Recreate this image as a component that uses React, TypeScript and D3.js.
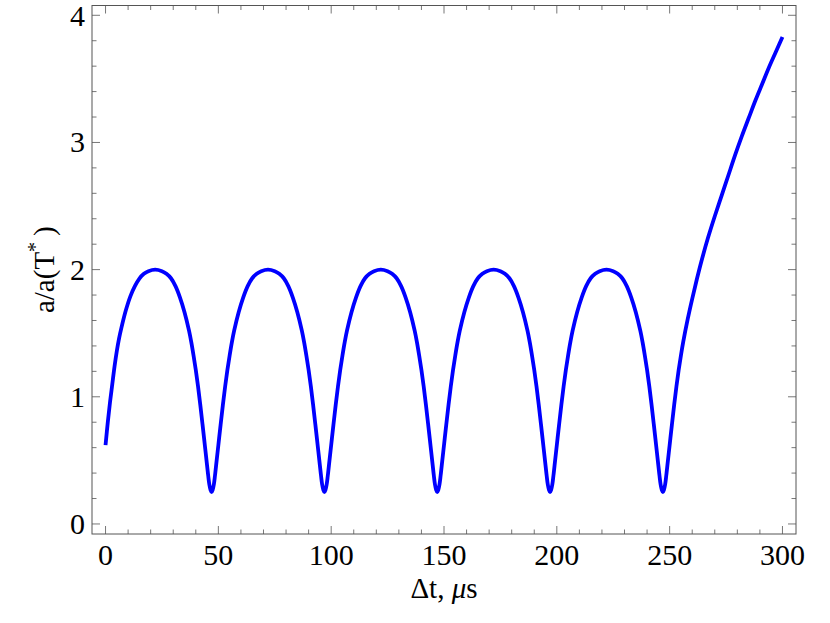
import React from "react";
import * as d3 from "d3";

// Curve samples: time Δt (µs) and ratio a/a(T*)
const tStart: number[] = [0, 1, 2, 3, 4, 5, 6, 7, 9, 11, 13, 15, 17, 19];
const vStart: number[] = [0.62, 0.8, 0.96, 1.1, 1.24, 1.36, 1.46, 1.54, 1.68, 1.79, 1.87, 1.93, 1.967, 1.988];

const tArch1: number[] = [22, 25, 27, 29, 31, 33, 35, 37, 38, 39, 40, 41, 42, 43, 44, 45, 45.5, 46, 46.5, 47, 47.5, 48, 48.5, 49, 50, 51, 52, 53, 54, 55, 56, 57, 59, 61, 63, 65, 67, 69];
const vArch1: number[] = [2.0, 1.988, 1.967, 1.932, 1.87, 1.78, 1.665, 1.52, 1.43, 1.325, 1.21, 1.08, 0.935, 0.78, 0.62, 0.46, 0.38, 0.31, 0.27, 0.25, 0.27, 0.31, 0.38, 0.46, 0.62, 0.78, 0.935, 1.08, 1.21, 1.325, 1.43, 1.52, 1.665, 1.78, 1.87, 1.932, 1.967, 1.988];

const tArch2: number[] = [72, 75, 77, 79, 81, 83, 85, 87, 88, 89, 90, 91, 92, 93, 94, 95, 95.5, 96, 96.5, 97, 97.5, 98, 98.5, 99, 100, 101, 102, 103, 104, 105, 106, 107, 109, 111, 113, 115, 117, 119];
const vArch2: number[] = [2.0, 1.988, 1.967, 1.932, 1.87, 1.78, 1.665, 1.52, 1.43, 1.325, 1.21, 1.08, 0.935, 0.78, 0.62, 0.46, 0.38, 0.31, 0.27, 0.25, 0.27, 0.31, 0.38, 0.46, 0.62, 0.78, 0.935, 1.08, 1.21, 1.325, 1.43, 1.52, 1.665, 1.78, 1.87, 1.932, 1.967, 1.988];

const tArch3: number[] = [122, 125, 127, 129, 131, 133, 135, 137, 138, 139, 140, 141, 142, 143, 144, 145, 145.5, 146, 146.5, 147, 147.5, 148, 148.5, 149, 150, 151, 152, 153, 154, 155, 156, 157, 159, 161, 163, 165, 167, 169];
const vArch3: number[] = [2.0, 1.988, 1.967, 1.932, 1.87, 1.78, 1.665, 1.52, 1.43, 1.325, 1.21, 1.08, 0.935, 0.78, 0.62, 0.46, 0.38, 0.31, 0.27, 0.25, 0.27, 0.31, 0.38, 0.46, 0.62, 0.78, 0.935, 1.08, 1.21, 1.325, 1.43, 1.52, 1.665, 1.78, 1.87, 1.932, 1.967, 1.988];

const tArch4: number[] = [172, 175, 177, 179, 181, 183, 185, 187, 188, 189, 190, 191, 192, 193, 194, 195, 195.5, 196, 196.5, 197, 197.5, 198, 198.5, 199, 200, 201, 202, 203, 204, 205, 206, 207, 209, 211, 213, 215, 217, 219];
const vArch4: number[] = [2.0, 1.988, 1.967, 1.932, 1.87, 1.78, 1.665, 1.52, 1.43, 1.325, 1.21, 1.08, 0.935, 0.78, 0.62, 0.46, 0.38, 0.31, 0.27, 0.25, 0.27, 0.31, 0.38, 0.46, 0.62, 0.78, 0.935, 1.08, 1.21, 1.325, 1.43, 1.52, 1.665, 1.78, 1.87, 1.932, 1.967, 1.988];

const tArch5: number[] = [222, 225, 227, 229, 231, 233, 235, 237, 238, 239, 240, 241, 242, 243, 244, 245, 245.5, 246, 246.5, 247];
const vArch5: number[] = [2.0, 1.988, 1.967, 1.932, 1.87, 1.78, 1.665, 1.52, 1.43, 1.325, 1.21, 1.08, 0.935, 0.78, 0.62, 0.46, 0.38, 0.31, 0.27, 0.25];

const tTail: number[] = [247.5, 248, 248.5, 249, 250, 251, 252, 253, 254, 255, 256, 258, 260, 262, 264, 267, 270, 273, 276, 279, 282, 285, 288, 291, 294, 297, 300];
const vTail: number[] = [0.27, 0.31, 0.38, 0.46, 0.62, 0.78, 0.935, 1.08, 1.21, 1.325, 1.43, 1.61, 1.77, 1.92, 2.06, 2.25, 2.42, 2.58, 2.74, 2.9, 3.05, 3.19, 3.33, 3.46, 3.59, 3.71, 3.83];

const timeUs: number[] = [...tStart, ...tArch1, ...tArch2, ...tArch3, ...tArch4, ...tArch5, ...tTail];
const ratio: number[] = [...vStart, ...vArch1, ...vArch2, ...vArch3, ...vArch4, ...vArch5, ...vTail];

const xMajorTicks: number[] = [0, 50, 100, 150, 200, 250, 300];
const yMajorTicks: number[] = [0, 1, 2, 3, 4];
const xTitleDelta = "Δt, ";
const xTitleUnitItalic = "μ";
const xTitleUnitRest = "s";
const yTitleMain = "a/a(T";
const yTitleSup = "*";
const yTitleEnd = ")";

const W = 830;
const H = 623;
const left = 92;
const right = 796;
const top = 5.5;
const bottom = 534;

export default function App() {
  const x = d3.scaleLinear().domain([-6, 306]).range([left, right]);
  const y = d3.scaleLinear().domain([-0.079, 4.077]).range([bottom, top]);

  const xMinor = d3.range(0, 301, 10).filter((v) => !xMajorTicks.includes(v));
  const yMinor = d3.range(0, 21).map((i) => i * 0.2).filter((v) => Math.abs(v - Math.round(v)) > 1e-6);

  const pts: [number, number][] = timeUs.map((t, i) => [t, ratio[i]]);
  const line = d3
    .line<[number, number]>()
    .x((d) => x(d[0]))
    .y((d) => y(d[1]))
    .curve(d3.curveCatmullRom.alpha(0.5));

  const majorLen = 8;
  const minorLen = 4.5;
  const tickColor = "#777";
  const font = "'Liberation Serif', 'Times New Roman', Times, serif";
  const fstyle = { fontFamily: font };

  return (
    <div style={{ position: "absolute", left: 0, top: 0 }}>
      <svg width={W} height={H} style={{ display: "block", background: "#fff" }}>
        <defs>
          <clipPath id="plotclip">
            <rect x={left} y={top} width={right - left} height={bottom - top} />
          </clipPath>
        </defs>
        {xMajorTicks.map((v) => (
          <g key={"xM" + v}>
            <line x1={x(v)} x2={x(v)} y1={bottom} y2={bottom - majorLen} stroke={tickColor} strokeWidth={1} />
            <line x1={x(v)} x2={x(v)} y1={top} y2={top + majorLen} stroke={tickColor} strokeWidth={1} />
          </g>
        ))}
        {xMinor.map((v) => (
          <g key={"xm" + v}>
            <line x1={x(v)} x2={x(v)} y1={bottom} y2={bottom - minorLen} stroke={tickColor} strokeWidth={1} />
            <line x1={x(v)} x2={x(v)} y1={top} y2={top + minorLen} stroke={tickColor} strokeWidth={1} />
          </g>
        ))}
        {yMajorTicks.map((v) => (
          <g key={"yM" + v}>
            <line x1={left} x2={left + majorLen} y1={y(v)} y2={y(v)} stroke={tickColor} strokeWidth={1} />
            <line x1={right} x2={right - majorLen} y1={y(v)} y2={y(v)} stroke={tickColor} strokeWidth={1} />
          </g>
        ))}
        {yMinor.map((v) => (
          <g key={"ym" + v}>
            <line x1={left} x2={left + minorLen} y1={y(v)} y2={y(v)} stroke={tickColor} strokeWidth={1} />
            <line x1={right} x2={right - minorLen} y1={y(v)} y2={y(v)} stroke={tickColor} strokeWidth={1} />
          </g>
        ))}
        <rect x={left} y={top} width={right - left} height={bottom - top} fill="none" stroke="#555" strokeWidth={1} />
        <path d={line(pts) || ""} fill="none" stroke="#0000ff" strokeWidth={3.8} strokeLinejoin="round" clipPath="url(#plotclip)" />
        {xMajorTicks.map((v) => (
          <text key={"xl" + v} x={x(v)} y={565} textAnchor="middle" style={fstyle} fontSize={30} fill="#000">
            {v}
          </text>
        ))}
        {yMajorTicks.map((v) => (
          <text key={"yl" + v} x={85} y={Math.max(y(v) + 10, 26)} textAnchor="end" style={fstyle} fontSize={30} fill="#000">
            {v}
          </text>
        ))}
        <text x={(left + right) / 2} y={598} textAnchor="middle" style={fstyle} fontSize={29} fill="#000">
          <tspan style={fstyle}>{xTitleDelta}</tspan>
          <tspan style={fstyle} fontStyle="italic">{xTitleUnitItalic}</tspan>
          <tspan style={fstyle}>{xTitleUnitRest}</tspan>
        </text>
        <text
          transform={`translate(54, ${(top + bottom) / 2}) rotate(-90)`}
          textAnchor="middle"
          style={fstyle}
          fontSize={29}
          fill="#000"
        >
          <tspan style={fstyle}>{yTitleMain}</tspan>
          <tspan style={fstyle} fontSize={20} dy={-12}>{yTitleSup}</tspan>
          <tspan style={fstyle} dy={12}>{"\u2009" + yTitleEnd}</tspan>
        </text>
      </svg>
    </div>
  );
}
